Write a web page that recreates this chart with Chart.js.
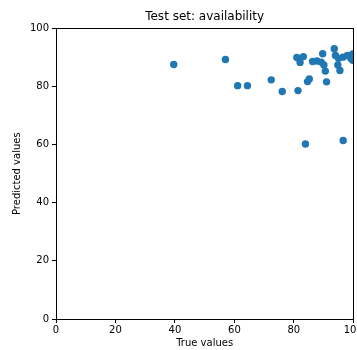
<!DOCTYPE html>
<html>
<head>
<meta charset="utf-8">
<script src="https://cdn.jsdelivr.net/npm/chart.js@4/dist/chart.umd.min.js"></script>
<style>
  html, body { margin: 0; padding: 0; background: #fff; overflow: hidden; }
  #c { display: block; }
</style>
</head>
<body>
<canvas id="c" width="357" height="350" style="width:357px;height:350px"></canvas>
<script>
const chartTitle = "Test set: availability";
const xLabel = "True values";
const yLabel = "Predicted values";
const tickValues = [0, 20, 40, 60, 80, 100];

const trueValues = [
  39.6, 57.0, 61.1, 64.4, 72.4, 76.1, 81.4, 84.6, 85.2, 91.0,
  83.9, 96.6, 81.0, 83.2, 82.1, 86.3, 87.8, 89.2, 89.7, 90.1,
  90.6, 93.6, 94.0, 95.0, 94.8, 95.5, 96.5, 98.0, 99.2, 99.8, 99.8
];
const predictedValues = [
  87.6, 89.3, 80.3, 80.3, 82.3, 78.3, 78.6, 81.7, 82.6, 81.6,
  60.2, 61.4, 90.0, 90.3, 88.3, 88.6, 88.8, 88.4, 91.3, 87.4,
  85.3, 93.0, 90.7, 89.7, 87.4, 85.5, 90.1, 90.7, 89.6, 91.2, 89.0
];

const points = trueValues.map((x, i) => ({ x: x, y: predictedValues[i] }));

const font = { family: "'DejaVu Sans', sans-serif", size: 10 };

const boxPlugin = {
  id: 'box',
  afterLayout(chart) {
    const t = chart.titleBlock;
    if (t) { t.left = chart.chartArea.left; t.right = chart.chartArea.right; }
  },
  afterDatasetsDraw(chart) {
    const a = chart.chartArea, ctx = chart.ctx;
    ctx.save();
    ctx.strokeStyle = '#000';
    ctx.lineWidth = 1;
    ctx.strokeRect(Math.round(a.left) + 0.5, Math.round(a.top) + 0.5,
                   Math.round(a.right - a.left), Math.round(a.bottom - a.top));
    ctx.restore();
  }
};

new Chart(document.getElementById('c'), {
  type: 'scatter',
  data: {
    datasets: [{
      data: points,
      backgroundColor: '#1f77b4',
      borderColor: '#1f77b4',
      borderWidth: 0,
      pointRadius: 3.7,
      pointHoverRadius: 3.7,
      clip: 0
    }]
  },
  options: {
    responsive: false,
    animation: false,
    devicePixelRatio: 1,
    layout: { padding: { left: 11, right: 0, top: 0, bottom: 0 } },
    plugins: {
      legend: { display: false },
      tooltip: { enabled: false },
      title: {
        display: true,
        text: chartTitle,
        color: '#000',
        font: { family: "'DejaVu Sans', sans-serif", size: 12, weight: 'normal' },
        padding: { top: 10, bottom: 4 }
      }
    },
    scales: {
      x: {
        type: 'linear',
        min: 0, max: 100,
        afterBuildTicks(scale) { scale.ticks = tickValues.map(v => ({ value: v })); },
        afterFit(scale) { scale.paddingRight = 3; },
        ticks: { color: '#000', font: font, padding: 1, maxRotation: 0, autoSkip: false },
        grid: { display: true, drawOnChartArea: false, drawTicks: true, tickLength: 4, color: '#000' },
        border: { display: true, color: '#000' },
        title: { display: true, text: xLabel, color: '#000', font: font, padding: { top: 0, bottom: 1 } }
      },
      y: {
        type: 'linear',
        min: 0, max: 100,
        afterBuildTicks(scale) { scale.ticks = tickValues.map(v => ({ value: v })); },
        afterFit(scale) { scale.width = 45; },
        ticks: { color: '#000', font: font, padding: 3, autoSkip: false },
        grid: { display: true, drawOnChartArea: false, drawTicks: true, tickLength: 4, color: '#000' },
        border: { display: true, color: '#000' },
        title: { display: true, text: yLabel, color: '#000', font: font, padding: { top: 0, bottom: 0 } }
      }
    }
  },
  plugins: [boxPlugin]
});
</script>
</body>
</html>
